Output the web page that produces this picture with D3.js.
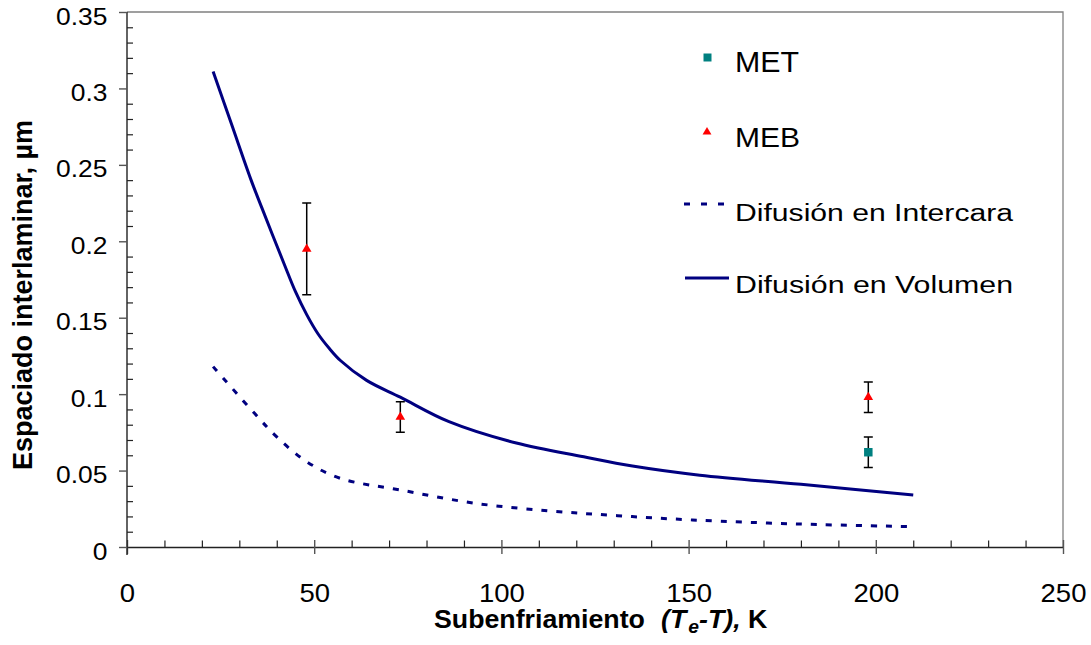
<!DOCTYPE html>
<html>
<head>
<meta charset="utf-8">
<script src="https://cdn.jsdelivr.net/npm/d3@7"></script>
<style>
  body { margin: 0; background: #fff; }
  svg { font-family: "Liberation Sans", Arial, sans-serif; }
</style>
</head>
<body>
<div id="chart"></div>
<script>
// axis ticks
const xTicks = [0, 50, 100, 150, 200, 250]
const yTicks = [0, 0.05, 0.1, 0.15, 0.2, 0.25, 0.3, 0.35]
const yTickLabels = ["0", "0.05", "0.1", "0.15", "0.2", "0.25", "0.3", "0.35"]

// Difusión en Volumen (solid)
const volX = [23, 28, 33, 36, 42, 45, 48, 51, 54, 57, 64, 73, 86, 104, 122, 135, 153, 180, 210]
const volY = [0.311, 0.276, 0.241, 0.222, 0.185, 0.167, 0.152, 0.1395, 0.130, 0.122, 0.109, 0.098, 0.082, 0.068, 0.059, 0.053, 0.047, 0.041, 0.034]

// Difusión en Intercara (dashed)
const intX = [23, 34, 40, 48, 57, 73, 93, 113, 131, 151, 180, 210]
const intY = [0.118, 0.0876, 0.072, 0.0558, 0.0449, 0.0373, 0.0286, 0.0236, 0.0205, 0.0177, 0.015, 0.0133]

// MEB (red triangles)
const mebX = [48, 73, 198]
const mebY = [0.195, 0.085, 0.098]
const mebErr = [0.03, 0.01, 0.01]

// MET (teal squares)
const metX = [198]
const metY = [0.062]
const metErr = [0.01]

const legendNames = ["MET", "MEB", "Difusión en Intercara", "Difusión en Volumen"]

const margin = { top: 12, right: 28, bottom: 98, left: 127 }
const W = 1091, H = 645
const width = W - margin.left - margin.right
const height = H - margin.top - margin.bottom

const navy = "#000080", red = "#ff0000", teal = "#008080"

const root = d3.select("#chart").append("svg")
    .attr("width", W)
    .attr("height", H)

const svg = root.append("g")
    .attr("transform", `translate(${margin.left}, ${margin.top})`)

const x = d3.scaleLinear().domain([0, 250]).range([0, width])
const y = d3.scaleLinear().domain([0, 0.35]).range([height, 0])

/* FRAME */
svg.append("path")
    .attr("d", `M0,0H${width}V${height}`)
    .attr("fill", "none")
    .attr("stroke", "#808080")
    .attr("stroke-width", 1.3)

/* AXES */
function addAxes() {
    // minor ticks, inside
    svg.append("g")
        .attr("transform", `translate(0, ${height})`)
        .call(d3.axisBottom(x).tickValues(d3.range(10, 250, 10).filter(d => d % 50)).tickSize(-6.5).tickFormat(""))
        .call(g => g.select(".domain").remove())
        .selectAll("line").attr("stroke", "#222").attr("stroke-width", 1.2)

    svg.append("g")
        .call(d3.axisLeft(y).tickValues(d3.range(1, 35).filter(d => d % 5).map(d => d / 100)).tickSize(-6).tickFormat(""))
        .call(g => g.select(".domain").remove())
        .selectAll("line").attr("stroke", "#222").attr("stroke-width", 1.2)

    // x major
    const gx = svg.append("g")
        .attr("transform", `translate(0, ${height})`)
        .call(d3.axisBottom(x).tickValues(xTicks).tickSize(7).tickSizeOuter(0).tickFormat(d3.format("d")))
    gx.select(".domain").attr("stroke", "#222").attr("stroke-width", 1.4)
    gx.selectAll(".tick line").attr("y1", -7).attr("stroke", "#555").attr("stroke-width", 1.4)
    gx.selectAll(".tick text")
        .attr("y", 55).attr("dy", 0)
        .attr("transform", "scale(1.1,1)")
        .style("font-size", "25px").style("fill", "#000")

    // y major
    const gy = svg.append("g")
        .call(d3.axisLeft(y).tickValues(yTicks).tickSize(8).tickSizeOuter(0).tickFormat((d, i) => yTickLabels[i]))
    gy.select(".domain").attr("stroke", "#222").attr("stroke-width", 1.4)
        .attr("d", `M0,0V${height + 8}`)
    gy.selectAll(".tick line").attr("stroke", "#555").attr("stroke-width", 1.4)
    gy.selectAll(".tick text")
        .attr("x", -17.8).attr("dy", "0.5em")
        .attr("transform", "scale(1.1,1)")
        .style("font-size", "24px").style("fill", "#000")
}

/* LINES */
function addLine(xs, ys, dash) {
    const line = d3.line()
        .x(i => x(xs[i]))
        .y(i => y(ys[i]))
        .curve(d3.curveCatmullRom.alpha(0.5))
    svg.append("path")
        .datum(d3.range(xs.length))
        .attr("fill", "none")
        .attr("stroke", navy)
        .attr("stroke-width", 3)
        .attr("stroke-dasharray", dash)
        .attr("d", line)
}

/* ERROR BARS + MARKERS */
function addPoints(xs, ys, errs, symbol, size, color) {
    const g = svg.append("g")
    const idx = d3.range(xs.length)
    g.selectAll(".bar").data(idx).join("path")
        .attr("fill", "none")
        .attr("stroke", "#000")
        .attr("stroke-width", 1.5)
        .attr("d", i => {
            const cx = x(xs[i]), t = y(ys[i] + errs[i]), b = y(ys[i] - errs[i])
            return `M${cx - 4.5},${t}H${cx + 4.5}M${cx},${t}V${b}M${cx - 4.5},${b}H${cx + 4.5}`
        })
    g.selectAll(".mark").data(idx).join("path")
        .attr("transform", i => `translate(${x(xs[i])}, ${y(ys[i])})`)
        .attr("fill", color)
        .attr("d", d3.symbol().type(symbol).size(size))
}

/* LEGEND */
function addLegend() {
    const lg = root.append("g")
    lg.append("path").attr("transform", "translate(707.5, 57.5)")
        .attr("fill", teal).attr("d", d3.symbol().type(d3.symbolSquare).size(64))
    lg.append("path").attr("transform", "translate(707, 132)")
        .attr("fill", red).attr("d", d3.symbol().type(d3.symbolTriangle).size(34))
    lg.append("line").attr("x1", 684).attr("x2", 726).attr("y1", 204).attr("y2", 204)
        .attr("stroke", navy).attr("stroke-width", 3).attr("stroke-dasharray", "6,11")
    lg.append("line").attr("x1", 685).attr("x2", 729).attr("y1", 278).attr("y2", 278)
        .attr("stroke", navy).attr("stroke-width", 3)

    const rows = [
        { y: 72, size: 29, len: 64 },
        { y: 147, size: 28, len: 65 },
        { y: 220.5, size: 23, len: 278 },
        { y: 293, size: 23, len: 278 }
    ]
    lg.selectAll("text").data(rows).join("text")
        .attr("x", 735)
        .attr("y", d => d.y)
        .attr("textLength", d => d.len)
        .attr("lengthAdjust", "spacingAndGlyphs")
        .style("font-size", d => d.size + "px")
        .text((d, i) => legendNames[i])
}

/* TITLES */
function addTitles() {
    root.append("text")
        .attr("transform", "translate(32, 295) rotate(-90)")
        .attr("text-anchor", "middle")
        .style("font-size", "27px")
        .style("font-weight", "bold")
        .text("Espaciado interlaminar, µm")

    const t = root.append("text")
        .attr("transform", "translate(434, 628) scale(1.07,1)")
        .style("font-size", "25px")
        .style("font-weight", "bold")
    t.append("tspan").text("Subenfriamiento")
    t.append("tspan").attr("dx", 15).style("font-style", "italic").text("(T")
    t.append("tspan").attr("dx", 2).attr("dy", 5).style("font-style", "italic").style("font-size", "18px").text("e")
    t.append("tspan").attr("dy", -5).style("font-style", "italic").text("-T),")
    t.append("tspan").text(" K")
}

addAxes()
addLine(intX, intY, "6,9")
addLine(volX, volY, null)
addPoints(mebX, mebY, mebErr, d3.symbolTriangle, 40, red)
addPoints(metX, metY, metErr, d3.symbolSquare, 72, teal)
addLegend()
addTitles()
</script>
</body>
</html>
